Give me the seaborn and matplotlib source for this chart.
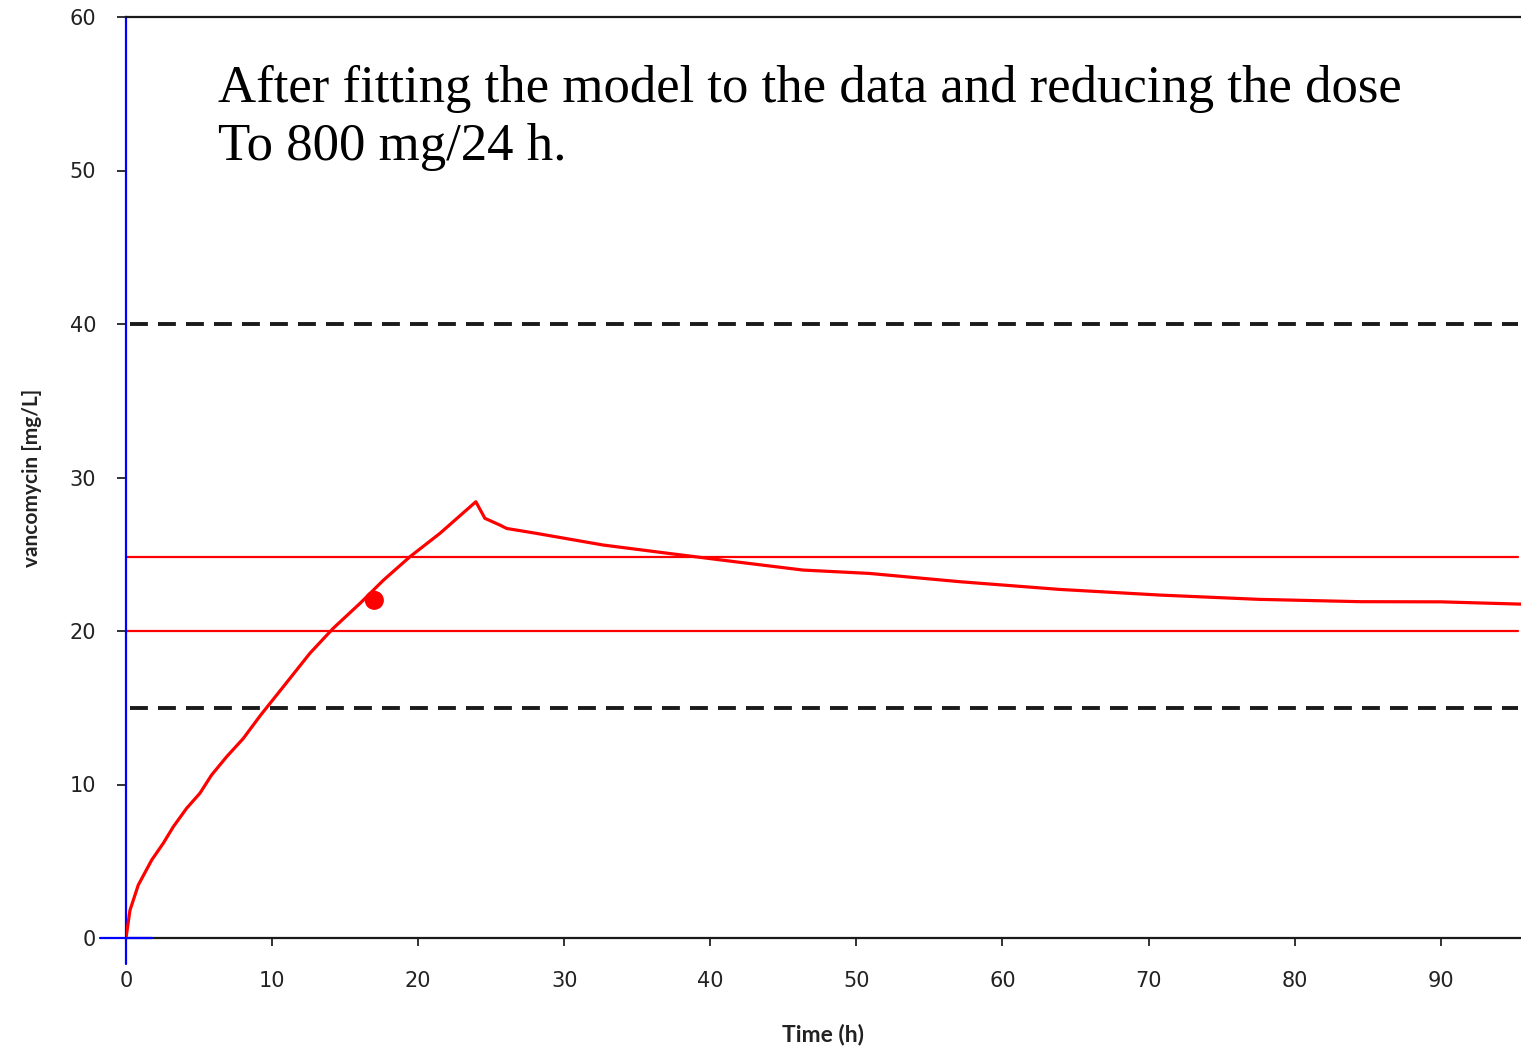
import matplotlib
matplotlib.use("Agg")
import matplotlib.pyplot as plt
import seaborn as sns
import pandas as pd

# Simulated vancomycin concentration after refitting (800 mg/24 h)
time_h = [0, 0.27, 0.84, 1.76, 2.55, 3.24, 4.15, 5.06, 5.86, 6.89, 8.03, 9.2,
          10.77, 12.59, 14.19, 16.02, 17.61, 19.44, 21.49, 23.95, 24.57, 25.6,
          26.06, 28.1, 32.67, 37.2, 41.8, 46.35, 50.9, 57.1, 63.9, 70.8, 77.6,
          84.5, 90.0, 95.5]
conc_mg_l = [0, 1.8, 3.45, 5.08, 6.17, 7.25, 8.45, 9.43, 10.62, 11.81, 13.0, 14.5,
             16.37, 18.55, 20.18, 21.8, 23.3, 24.84, 26.36, 28.42, 27.34, 26.9,
             26.68, 26.36, 25.6, 25.05, 24.5, 23.97, 23.75, 23.21, 22.71, 22.34, 22.06,
             21.91, 21.9, 21.75]

# Measured level
obs_time = [17.0]
obs_conc = [22.0]

# Reference bands
target_lines = [20.0, 24.8]     # solid red
limit_lines = [15.0, 40.0]      # dashed black

x_ticks = [0, 10, 20, 30, 40, 50, 60, 70, 80, 90]
y_ticks = [0, 10, 20, 30, 40, 50, 60]

title_text = "After fitting the model to the data and reducing the dose\nTo 800 mg/24 h."

sns.set_style("white")
plt.rcParams["font.family"] = ["DejaVu Sans"]

fig = plt.figure(figsize=(15.21, 10.46), dpi=100)
ax = fig.add_axes([126 / 1521, 1 - 938 / 1046, 1 - 126 / 1521, (938 - 17) / 1046])

curve = pd.DataFrame({"time": time_h, "conc": conc_mg_l})
obs = pd.DataFrame({"time": obs_time, "conc": obs_conc})

for yv in limit_lines:
    ax.axhline(yv, xmin=0.003, xmax=0.998, color="#1a1a1a", lw=2.8,
               linestyle=(0, (4.6, 2.6)), zorder=1)
for yv in target_lines:
    ax.axhline(yv, xmin=0.0, xmax=0.998, color="red", lw=1.6, zorder=2)

sns.lineplot(data=curve, x="time", y="conc", ax=ax, color="red", lw=2.3,
             zorder=3, legend=False)
sns.scatterplot(data=obs, x="time", y="conc", ax=ax, color="red", s=190,
                edgecolor="none", zorder=4, legend=False)

ax.set_xlim(0, 95.5)
ax.set_ylim(0, 60)
ax.set_xticks(x_ticks)
ax.set_yticks(y_ticks)
ax.tick_params(axis="both", labelsize=15, labelcolor="#222222", colors="#222222")
ax.tick_params(axis="y", direction="out", length=6.5, width=1.3, pad=15, left=True)
ax.tick_params(axis="x", direction="out", length=6, width=1.3, pad=18, bottom=True)

for side in ["top", "bottom"]:
    ax.spines[side].set_color("#1a1a1a")
    ax.spines[side].set_linewidth(1.6)
ax.spines["left"].set_color("blue")
ax.spines["left"].set_linewidth(1.6)
ax.spines["right"].set_visible(False)

# Blue cross at the origin
ax.plot([0, 0], [-1.7, 0], color="blue", lw=1.6, clip_on=False, zorder=5)
ax.plot([-1.78, 1.78], [0, 0], color="blue", lw=1.6, clip_on=False, zorder=5)

ax.set_xlabel("Time (h)", fontsize=16.5, fontweight="bold", family="Lato",
              color="#222222", labelpad=23)
ax.set_ylabel("vancomycin [mg/L]", fontsize=15, fontweight="bold", family="Lato",
              color="#222222", labelpad=20)

ax.text(218 / 1521, 1 - 160 / 1046, title_text, transform=fig.transFigure,
        family="Liberation Serif", fontsize=38, color="black",
        ha="left", va="baseline", linespacing=1.26)

fig.savefig("out.png", dpi=100)
